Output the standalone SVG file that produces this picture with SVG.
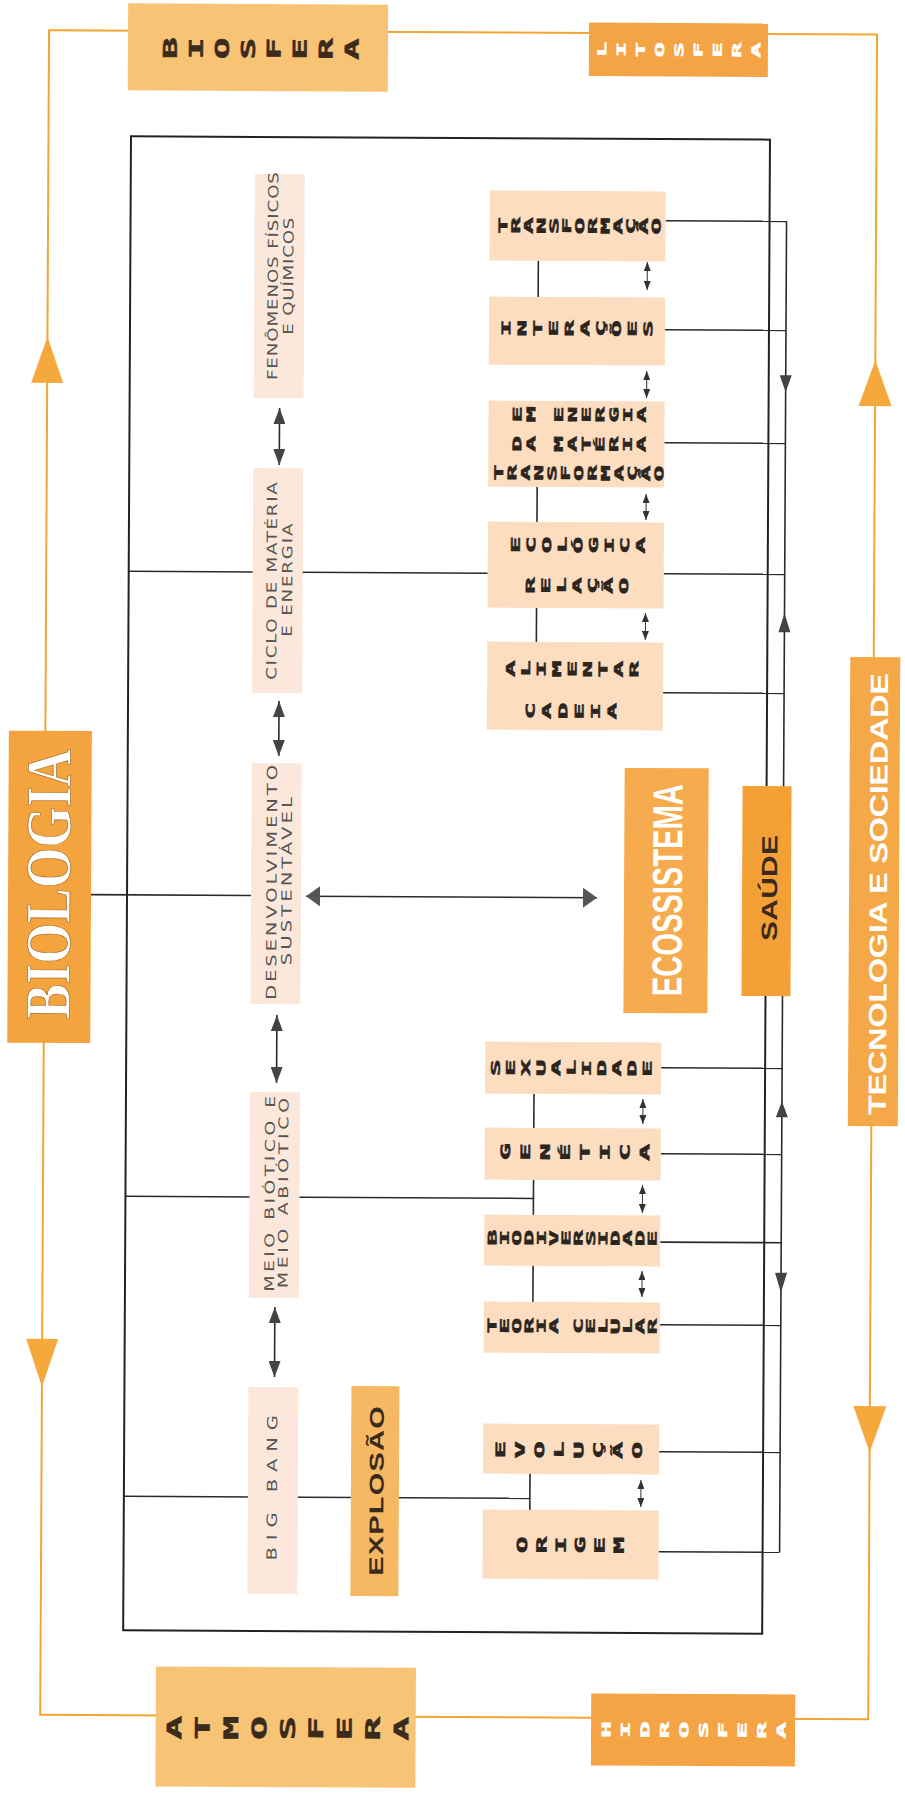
<svg xmlns="http://www.w3.org/2000/svg" width="905" height="1798" viewBox="0 0 905 1798">
<style>
.ol{stroke:#F2A535;stroke-width:2;fill:none}
.ln{stroke:#2a2a2a;stroke-width:1.6;fill:none}
.pc{fill:#FCE8DA}
.pr{fill:#FCDDBF}
.ct{font-family:'DejaVu Sans','Liberation Sans',sans-serif;font-size:14px;fill:#555;text-anchor:middle}
.st{font-family:'DejaVu Sans Mono','Liberation Mono',monospace;font-weight:bold;fill:#2b2520;stroke:#2b2520;stroke-width:0.5}
.wt{fill:#fff;stroke:#fff}
.bt{font-family:'Liberation Sans',Arial,sans-serif;font-weight:bold;text-anchor:middle}
.ot{fill:#F5A93C}
</style>
<defs>
<marker id="ah" viewBox="0 0 16 12" refX="16" refY="6" markerWidth="16" markerHeight="12" markerUnits="userSpaceOnUse" orient="auto-start-reverse"><path d="M0,0 L16,6 L0,12 z" fill="#444"/></marker>
<marker id="ahs" viewBox="0 0 9 7" refX="9" refY="3.5" markerWidth="9" markerHeight="7" markerUnits="userSpaceOnUse" orient="auto-start-reverse"><path d="M0,0 L9,3.5 L0,7 z" fill="#333"/></marker>
<marker id="ahh" viewBox="0 0 14 20" refX="14" refY="10" markerWidth="14" markerHeight="20" markerUnits="userSpaceOnUse" orient="auto-start-reverse"><path d="M0,0 L14,10 L0,20 z" fill="#555"/></marker>
</defs>
<rect width="905" height="1798" fill="#ffffff"/>
<g transform="rotate(0.3 452 899)">
<g id="connectors">
<rect class="ol" x="44.5" y="32.3" width="828" height="1684.7"/>
<polygon class="ot" points="44.5,339 28.5,385 60.5,385"/>
<polygon class="ot" points="28.5,1341 60.5,1341 44.5,1389"/>
<polygon class="ot" points="872.5,358 856,404 889,404"/>
<polygon class="ot" points="856,1404 889,1404 872.5,1450"/>
<rect x="127" y="138" width="639" height="1494" fill="none" stroke="#222" stroke-width="2"/>
<line class="ln" x1="127" y1="573" x2="486" y2="573"/>
<line class="ln" x1="91" y1="896.5" x2="251" y2="896.5"/>
<line class="ln" x1="127" y1="1198" x2="535" y2="1198"/>
<line class="ln" x1="127" y1="1498" x2="533" y2="1498"/>
<line class="ln" x1="535" y1="260" x2="535" y2="297"/>
<line class="ln" x1="535" y1="486" x2="535" y2="642"/>
<line class="ln" x1="535" y1="1093" x2="535" y2="1302"/>
<line class="ln" x1="533" y1="1473" x2="533" y2="1510"/>
<line class="ln" x1="662" y1="219.6" x2="783" y2="219.6"/>
<line class="ln" x1="662" y1="328.6" x2="783" y2="328.6"/>
<line class="ln" x1="662" y1="441.6" x2="783" y2="441.6"/>
<line class="ln" x1="662" y1="572.6" x2="783" y2="572.6"/>
<line class="ln" x1="662" y1="691.6" x2="783" y2="691.6"/>
<line class="ln" x1="662" y1="1066.6" x2="783" y2="1066.6"/>
<line class="ln" x1="662" y1="1152.6" x2="783" y2="1152.6"/>
<line class="ln" x1="662" y1="1241" x2="783" y2="1241"/>
<line class="ln" x1="662" y1="1323.6" x2="783" y2="1323.6"/>
<line class="ln" x1="662" y1="1450.6" x2="783" y2="1450.6"/>
<line class="ln" x1="662" y1="1550.6" x2="783" y2="1550.6"/>
<line class="ln" x1="783" y1="219.6" x2="783" y2="1550.6"/>
<polygon fill="#444" points="777,373.6 789,373.6 783,390.6"/>
<polygon fill="#444" points="783,611.6 777,630.6 789,630.6"/>
<polygon fill="#444" points="783,1099.6 777,1115.6 789,1115.6"/>
<polygon fill="#444" points="777,1271 789,1271 783,1291"/>
<line class="ln" x1="277" y1="409" x2="277" y2="466" marker-start="url(#ah)" marker-end="url(#ah)"/>
<line class="ln" x1="278" y1="702" x2="278" y2="757" marker-start="url(#ah)" marker-end="url(#ah)"/>
<line class="ln" x1="277.5" y1="1016" x2="277.5" y2="1084" marker-start="url(#ah)" marker-end="url(#ah)"/>
<line class="ln" x1="277" y1="1308" x2="277" y2="1378" marker-start="url(#ah)" marker-end="url(#ah)"/>
<line class="ln" x1="306" y1="897" x2="597" y2="897" marker-start="url(#ahh)" marker-end="url(#ahh)"/>
<g stroke="#333" stroke-width="1">
<line x1="644" y1="261" x2="644" y2="289" marker-start="url(#ahs)" marker-end="url(#ahs)"/>
<line x1="644" y1="370" x2="644" y2="397" marker-start="url(#ahs)" marker-end="url(#ahs)"/>
<line x1="644" y1="493" x2="644" y2="519" marker-start="url(#ahs)" marker-end="url(#ahs)"/>
<line x1="644" y1="612" x2="644" y2="639" marker-start="url(#ahs)" marker-end="url(#ahs)"/>
<line x1="644" y1="1098" x2="644" y2="1123" marker-start="url(#ahs)" marker-end="url(#ahs)"/>
<line x1="644" y1="1184" x2="644" y2="1212" marker-start="url(#ahs)" marker-end="url(#ahs)"/>
<line x1="644" y1="1270" x2="644" y2="1296" marker-start="url(#ahs)" marker-end="url(#ahs)"/>
<line x1="644" y1="1479" x2="644" y2="1506" marker-start="url(#ahs)" marker-end="url(#ahs)"/>
</g>
</g>

<g id="biosfera"><rect x="123.5" y="5" width="260" height="87" fill="#F7C374"/>
<text class="st" font-size="19" x="172.4" y="5.72" rotate="-90" letter-spacing="14.52" transform="matrix(1 0 0 1.9 0 49.6)" style="fill:#3b2b1d;stroke:#3b2b1d">BIOSFERA</text></g>
<g id="litosfera"><rect x="584.5" y="21.8" width="179" height="53.5" fill="#F4A444"/>
<text class="st wt" font-size="12" x="601.9" y="3.61" rotate="-90" letter-spacing="12.03" transform="matrix(1 0 0 2.1 0 48.6)">LITOSFERA</text></g>
<g id="atmosfera"><rect x="160" y="1668" width="260" height="120" fill="#F7C374"/>
<text class="st" font-size="20" x="185.6" y="6.02" rotate="-90" letter-spacing="16.33" transform="matrix(1 0 0 2 0 1729)" style="fill:#3b2b1d;stroke:#3b2b1d">ATMOSFERA</text></g>
<g id="hidrosfera"><rect x="595.4" y="1692.7" width="204" height="72" fill="#F4A444"/>
<text class="st wt" font-size="12" x="614.8" y="3.61" rotate="-90" letter-spacing="12.22" transform="matrix(1 0 0 2.3 0 1728.7)">HIDROSFERA</text></g>

<g id="biologia"><rect x="8" y="733" width="83" height="312" fill="#F4A43F"/>
<text class="bt" style="font-family:'Liberation Serif',serif" font-size="64" fill="#fff" stroke="#9a5a10" stroke-width="0.6" textLength="270" lengthAdjust="spacingAndGlyphs" transform="translate(70 886) rotate(-90)">BIOLOGIA</text></g>
<g id="tecnologia"><rect x="849" y="655" width="50" height="469" fill="#F5A847"/>
<text class="bt" font-size="25" fill="#fff" textLength="340" transform="translate(887 891.8) rotate(-90) scale(1.3 1)">TECNOLOGIA E SOCIEDADE</text></g>

<g id="fenomenos"><rect class="pc" x="251" y="175" width="50" height="224"/>
<text class="ct" textLength="160" transform="translate(274.5 277) rotate(-90) scale(1.3 1)">FENÔMENOS FÍSICOS</text>
<text class="ct" textLength="90" transform="translate(290 277) rotate(-90) scale(1.3 1)">E QUÍMICOS</text></g>
<g id="ciclo"><rect class="pc" x="251" y="469" width="50" height="225"/>
<text class="ct" textLength="152" transform="translate(275 582) rotate(-90) scale(1.3 1)">CICLO DE MATÉRIA</text>
<text class="ct" textLength="87" transform="translate(290.5 581) rotate(-90) scale(1.3 1)">E ENERGIA</text></g>
<g id="desenvolvimento"><rect class="pc" x="251" y="764" width="50" height="241"/>
<text class="ct" textLength="168" transform="translate(276.5 883.4) rotate(-90) scale(1.4 1)">DESENVOLVIMENTO</text>
<text class="ct" textLength="120" transform="translate(291.5 882) rotate(-90) scale(1.4 1)">SUSTENTÁVEL</text></g>
<g id="meio"><rect class="pc" x="251" y="1093" width="50" height="206"/>
<text class="ct" style="font-size:13.5px" textLength="140" transform="translate(276 1194.7) rotate(-90) scale(1.4 1)">MEIO BIÓTICO E</text>
<text class="ct" style="font-size:13.5px" textLength="136" transform="translate(289.5 1194) rotate(-90) scale(1.4 1)">MEIO ABIÓTICO</text></g>
<g id="bigbang"><rect class="pc" x="251" y="1388" width="50" height="207"/>
<text class="ct" textLength="104" transform="translate(280 1488.7) rotate(-90) scale(1.4 1)">BIG BANG</text></g>
<g id="explosao"><rect x="354" y="1386.4" width="48" height="210" fill="#F6B862"/>
<text class="bt" font-size="20" fill="#3a2a1c" textLength="117" transform="translate(386.5 1491.4) rotate(-90) scale(1.45 1)">EXPLOSÃO</text></g>

<g id="ecossistema"><rect x="624" y="767" width="84" height="245" fill="#F6AB4E"/>
<text class="bt" font-size="42" fill="#fff" textLength="212" lengthAdjust="spacingAndGlyphs" transform="translate(682 889) rotate(-90)">ECOSSISTEMA</text></g>
<g id="saude"><rect x="742" y="784.4" width="49" height="210" fill="#F3A136"/>
<text class="bt" font-size="22" fill="#3a2a1c" textLength="78.5" transform="translate(777 886.4) rotate(-90) scale(1.35 1)">SAÚDE</text></g>

<g id="transformacao"><rect class="pr" x="486" y="190.3" width="176" height="70"/>
<text class="st" font-size="12" x="503.7" y="3.61" rotate="-90" letter-spacing="5.56" transform="matrix(1 0 0 2.3 0 225.2)">TRANSFORMAÇÃO</text></g>
<g id="interacoes"><rect class="pr" x="486" y="296.4" width="176" height="68"/>
<text class="st" font-size="12" x="507.4" y="3.61" rotate="-90" letter-spacing="8.56" transform="matrix(1 0 0 2.3 0 327.7)">INTERAÇÕES</text></g>
<g id="transformacao-materia-energia"><rect class="pr" x="486" y="400.4" width="176" height="86"/>
<text class="st" font-size="12" x="519" y="3.61" rotate="-90" letter-spacing="6.58" transform="matrix(1 0 0 2.2 0 413.9)">EM ENERGIA</text>
<text class="st" font-size="12" x="519" y="3.61" rotate="-90" letter-spacing="6.58" transform="matrix(1 0 0 2.2 0 443.4)">DA MATÉRIA</text>
<text class="st" font-size="12" x="500.7" y="3.61" rotate="-90" letter-spacing="6.14" transform="matrix(1 0 0 2.2 0 472.4)">TRANSFORMAÇÃO</text></g>
<g id="relacao-ecologica"><rect class="pr" x="486" y="521.4" width="176" height="86"/>
<text class="st" font-size="12" x="517.9" y="3.61" rotate="-90" letter-spacing="8.41" transform="matrix(1 0 0 2.3 0 544.4)">ECOLÓGICA</text>
<text class="st" font-size="12" x="532.9" y="3.61" rotate="-90" letter-spacing="8.35" transform="matrix(1 0 0 2.3 0 584.9)">RELAÇÃO</text></g>
<g id="cadeia-alimentar"><rect class="pr" x="486" y="641.4" width="176" height="88"/>
<text class="st" font-size="12" x="513.5" y="3.61" rotate="-90" letter-spacing="8.21" transform="matrix(1 0 0 2.3 0 668.4)">ALIMENTAR</text>
<text class="st" font-size="12" x="533.5" y="3.61" rotate="-90" letter-spacing="9.12" transform="matrix(1 0 0 2.3 0 710.4)">CADEIA</text></g>
<g id="sexualidade"><rect class="pr" x="486" y="1041.4" width="176" height="52"/>
<text class="st" font-size="12" x="500.6" y="3.61" rotate="-90" letter-spacing="7.95" transform="matrix(1 0 0 2.3 0 1067.4)">SEXUALIDADE</text></g>
<g id="genetica"><rect class="pr" x="486" y="1127.4" width="176" height="52"/>
<text class="st" font-size="13" x="511.35" y="3.91" rotate="-90" letter-spacing="12.08" transform="matrix(1 0 0 2.2 0 1151.4)">GENÉTICA</text></g>
<g id="biodiversidade"><rect class="pr" x="486" y="1214.4" width="176" height="51"/>
<text class="st" font-size="12" x="498.2" y="3.61" rotate="-90" letter-spacing="5.09" transform="matrix(1 0 0 2.2 0 1237.4)">BIODIVERSIDADE</text></g>
<g id="teoria-celular"><rect class="pr" x="486" y="1301.4" width="176" height="51"/>
<text class="st" font-size="12" x="498.6" y="3.61" rotate="-90" letter-spacing="5.09" transform="matrix(1 0 0 2.2 0 1325.4)">TEORIA CELULAR</text></g>
<g id="evolucao"><rect class="pr" x="486" y="1423.4" width="176" height="50"/>
<text class="st" font-size="13" x="507.95" y="3.91" rotate="-90" letter-spacing="11.7" transform="matrix(1 0 0 2.2 0 1449.4)">EVOLUÇÃO</text></g>
<g id="origem"><rect class="pr" x="486" y="1509.4" width="176" height="69"/>
<text class="st" font-size="14" x="530.5" y="4.21" rotate="-90" letter-spacing="10.91" transform="matrix(1 0 0 2 0 1544.4)">ORIGEM</text></g>
</g>
</svg>
